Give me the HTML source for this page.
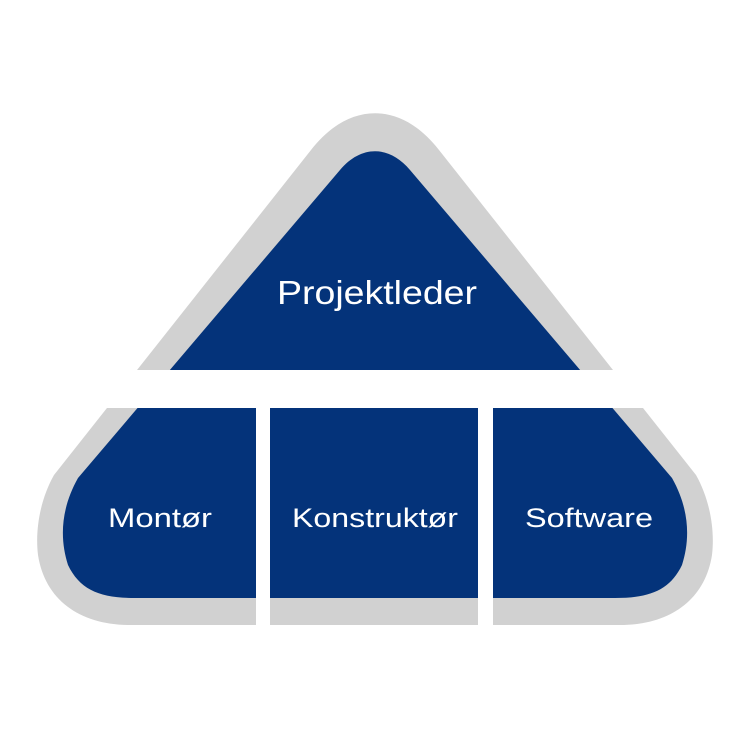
<!DOCTYPE html>
<html><head><meta charset="utf-8"><style>
html,body{margin:0;padding:0;background:#fff;}
svg{display:block}
text{font-family:"Liberation Sans",sans-serif;fill:#fff;text-anchor:middle}
</style></head><body>
<svg width="750" height="750" viewBox="0 0 750 750">
<path fill="#d1d1d1" d="M311,150 C349,101 401,101 439,150 L696,475 C710,500 715,530 712,555 C705,600 670,625 620,625 L130,625 C80,625 45,600 38,555 C35,530 40,500 54,475 Z"/>
<path fill="#04337a" d="M340,170 C361,145 389,145 410,170 L672,478 C690,510 690,540 682,565 C670,590 650,598 615,598 L135,598 C100,598 80,590 68,565 C60,540 60,510 78,478 Z"/>
<rect x="0" y="370" width="750" height="38" fill="#fff"/>
<rect x="256" y="408" width="14" height="230" fill="#fff"/>
<rect x="478" y="408" width="15" height="230" fill="#fff"/>
<text x="377" y="304" font-size="33" textLength="200" lengthAdjust="spacingAndGlyphs">Projektleder</text>
<text x="160" y="527" font-size="27" textLength="104" lengthAdjust="spacingAndGlyphs">Montør</text>
<text x="375" y="527" font-size="27" textLength="166" lengthAdjust="spacingAndGlyphs">Konstruktør</text>
<text x="589" y="527" font-size="27" textLength="128" lengthAdjust="spacingAndGlyphs">Software</text>
</svg>
</body></html>
